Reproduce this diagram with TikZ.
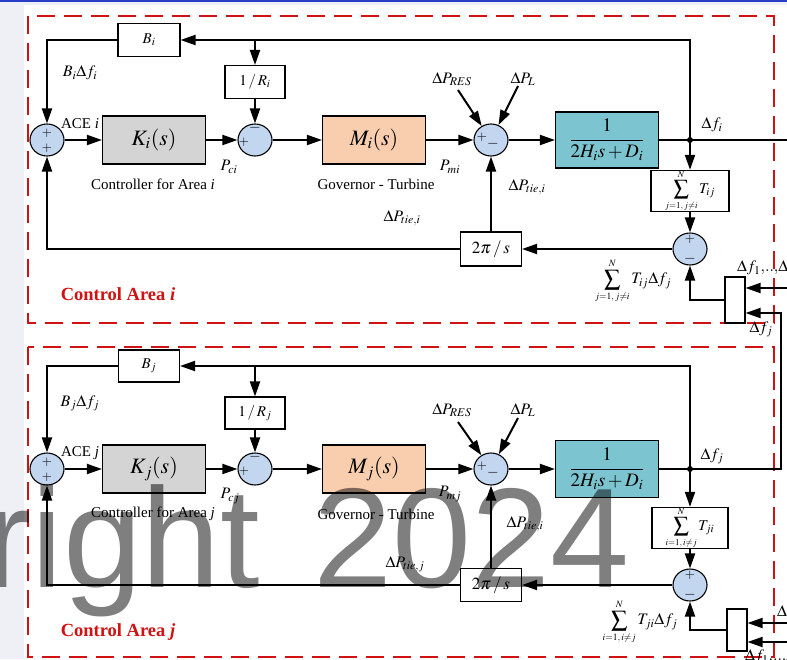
\documentclass[tikz,border=0pt]{standalone}
\usepackage{mathptmx}
\usepackage[no-math]{fontspec}
\setmainfont{Liberation Serif}
\newfontfamily\wmfont{Liberation Sans}
\usetikzlibrary{shapes.geometric,arrows.meta}
\definecolor{kgray}{RGB}{212,212,212}
\definecolor{mpeach}{RGB}{249,206,174}
\definecolor{gteal}{RGB}{124,196,208}
\definecolor{sblue}{RGB}{194,214,240}
\definecolor{areared}{RGB}{208,18,18}
\definecolor{bgl}{RGB}{238,240,245}
\definecolor{topblue}{RGB}{40,60,200}
\tikzset{
  blk/.style={draw, line width=1.1pt, inner sep=0pt, font=\fontsize{15}{18}\selectfont},
  bigblk/.style={blk, minimum width=103pt, minimum height=48pt, font=\fontsize{22}{24}\selectfont},
  sumc/.style={ellipse, draw, line width=1.1pt, fill=sblue, minimum width=34pt, minimum height=32pt, inner sep=0pt},
  conn/.style={line width=2pt},
  arr/.style={conn, -{Triangle[length=15pt,width=10pt]}},
  lbl/.style={inner sep=0pt, font=\fontsize{15}{18}\selectfont},
  mlbl/.style={inner sep=0pt, font=\fontsize{16}{18}\selectfont},
  sgn/.style={inner sep=0pt, font=\fontsize{13}{14}\selectfont},
  area/.style={draw=areared, line width=2pt, dash pattern=on 18pt off 9pt},
  arealbl/.style={inner sep=0pt, text=areared, font=\fontsize{18.5}{20}\selectfont\bfseries},
  wm/.style={inner sep=0pt, text=black, text opacity=0.5, font=\wmfont\fontsize{142}{150}\selectfont}
}
\begin{document}
\begin{tikzpicture}[x=1pt,y=-1pt]
\useasboundingbox (0,0) rectangle (787,659);
\clip (0,0) rectangle (787,659);
\fill[white] (0,0) rectangle (787,659);
\fill[bgl] (0,0) rectangle (24,659);
\fill[bgl] (0,0) rectangle (787,5);
\fill[topblue] (0,0) rectangle (787,1.5);

% dashed control area boxes
\draw[area] (28,16) rectangle (774,323);
\draw[area] (28,347) rectangle (774,657);

% ================= Area i =================
\node[blk, minimum width=62pt, minimum height=33pt] (Bi) at (149,40) {$B_i$};
\node[blk, minimum width=60pt, minimum height=33pt] (Ri) at (255,82) {$1\,/\,R_i$};
\node[sumc] (s0i) at (47,140) {};
\node[bigblk, fill=kgray] (Ki) at (154,140) {$K_i(s)$};
\node[sumc] (s1i) at (255,140) {};
\node[bigblk, fill=mpeach] (Mi) at (374,140) {$M_i(s)$};
\node[sumc] (s2i) at (491,140) {};
\node[blk, fill=gteal, minimum width=103pt, minimum height=56pt, font=\fontsize{19}{22}\selectfont] (Gi) at (607,140) {$\displaystyle\frac{1}{2H_i s+D_i}$};
\coordinate (ji) at (690,140);
\coordinate (outi) at (795,140);
\node[blk, minimum width=78pt, minimum height=41pt] (Tij) at (690,191) {$\displaystyle\sum_{\scriptscriptstyle j=1,\,j\neq i}^{\scriptscriptstyle N} T_{ij}$};
\node[sumc] (s3i) at (690,249) {};
\node[blk, minimum width=61pt, minimum height=34pt, font=\fontsize{17}{20}\selectfont] (tpi) at (491,249) {$2\pi\,/\,s$};
\node[blk, minimum width=20pt, minimum height=46pt] (muxi) at (735,300) {};
\coordinate (brRi) at (255,40);
\coordinate (resi) at (458,90);
\coordinate (Li) at (518,86);
\coordinate (iniA) at (795,288);
\coordinate (upj) at (781,313);

\draw[arr] (ji) |- (Bi);
\draw[arr] (brRi) -- (Ri);
\draw[arr] (Ri) -- (s1i);
\draw[arr] (Bi) -| (s0i);
\draw[arr] (s0i) -- (Ki);
\draw[arr] (Ki) -- (s1i);
\draw[arr] (s1i) -- (Mi);
\draw[arr] (Mi) -- (s2i);
\draw[arr] (s2i) -- (Gi);
\draw[conn] (Gi) -- (outi);
\fill (ji) circle (3pt);
\draw[arr] (ji) -- (Tij);
\draw[arr] (Tij) -- (s3i);
\draw[arr] (s3i) -- (tpi);
\draw[arr] (tpi) -| (s0i);
\draw[arr] (tpi) -- (s2i);
\draw[arr] (muxi) -| (s3i);
\draw[arr] (iniA) -- (iniA -| muxi.east);
\draw[arr] (resi) -- (s2i);
\draw[arr] (Li) -- (s2i);

% signs
\node[sgn] (g0a) at (47,133) {$+$};
\node[sgn] (g0b) at (47,148) {$+$};
\node[sgn, font=\fontsize{15}{16}\selectfont] (g1a) at (255,128) {$-$};
\node[sgn] (g1b) at (244,142) {$+$};
\node[sgn] (g2a) at (482,137) {$+$};
\node[sgn, font=\fontsize{15}{16}\selectfont] (g2b) at (493,144) {$-$};
\node[sgn] (g3a) at (690,239) {$+$};
\node[sgn, font=\fontsize{15}{16}\selectfont] (g3b) at (690,259) {$-$};

% labels
\node[mlbl] (lBdfi) at (80,73) {$B_i\Delta f_i$};
\node[lbl] (lACEi) at (80,124) {ACE \textit{i}};
\node[mlbl] (lPci) at (229,167) {$P_{ci}$};
\node[lbl] (lCtrli) at (153,184) {Controller for Area \textit{i}};
\node[mlbl] (lPmi) at (450,167) {$P_{mi}$};
\node[lbl] (lGovi) at (376,184) {Governor - Turbine};
\node[mlbl] (lRESi) at (452,79) {$\Delta P_{RES}$};
\node[mlbl] (lPLi) at (523,79) {$\Delta P_L$};
\node[mlbl] (ltieRi) at (527,187) {$\Delta P_{tie,i}$};
\node[mlbl] (ltieLi) at (402,218) {$\Delta P_{tie,i}$};
\node[mlbl] (ldfi) at (712,125) {$\Delta f_i$};
\node[mlbl] (lsumi) at (633,281) {$\displaystyle\sum_{\scriptscriptstyle j=1,\,j\neq i}^{\scriptscriptstyle N} T_{ij}\Delta f_j$};
\node[mlbl, anchor=west] (lallA) at (737,268) {$\Delta f_1,\!..,\!\Delta f_N$};
\node[mlbl] (ldfjA) at (761,329) {$\Delta f_j$};
\node[arealbl] (lCAi) at (118,294) {Control Area \textit{i}};

% ================= Area j =================
\node[blk, minimum width=61pt, minimum height=32pt] (Bj) at (149,366) {$B_j$};
\node[blk, minimum width=60pt, minimum height=32pt] (Rj) at (255,413) {$1\,/\,R_j$};
\node[sumc] (s0j) at (47,469) {};
\node[bigblk, fill=kgray] (Kj) at (154,469) {$K_j(s)$};
\node[sumc] (s1j) at (255,469) {};
\node[bigblk, fill=mpeach] (Mj) at (374,469) {$M_j(s)$};
\node[sumc] (s2j) at (491,469) {};
\node[blk, fill=gteal, minimum width=103pt, minimum height=57pt, font=\fontsize{19}{22}\selectfont] (Gj) at (607,469) {$\displaystyle\frac{1}{2H_i s+D_i}$};
\coordinate (jj) at (690,469);
\node[blk, minimum width=76pt, minimum height=41pt] (Tji) at (690,528) {$\displaystyle\sum_{\scriptscriptstyle i=1,\,i\neq j}^{\scriptscriptstyle N} T_{ji}$};
\node[sumc] (s3j) at (690,585) {};
\node[blk, minimum width=61pt, minimum height=33pt, font=\fontsize{17}{20}\selectfont] (tpj) at (491,585) {$2\pi\,/\,s$};
\node[blk, minimum width=20pt, minimum height=42pt] (muxj) at (737,630) {};
\coordinate (brRj) at (255,366);
\coordinate (resj) at (458,422);
\coordinate (Lj) at (518,418);
\coordinate (inB1) at (795,623);
\coordinate (inB2) at (795,642);

\draw[arr] (jj) |- (Bj);
\draw[arr] (brRj) -- (Rj);
\draw[arr] (Rj) -- (s1j);
\draw[arr] (Bj) -| (s0j);
\draw[arr] (s0j) -- (Kj);
\draw[arr] (Kj) -- (s1j);
\draw[arr] (s1j) -- (Mj);
\draw[arr] (Mj) -- (s2j);
\draw[arr] (s2j) -- (Gj);
\draw[arr] (Gj) -- (jj) -| (upj) -- (upj -| muxi.east);
\fill (jj) circle (3pt);
\draw[arr] (jj) -- (Tji);
\draw[arr] (Tji) -- (s3j);
\draw[arr] (s3j) -- (tpj);
\draw[arr] (tpj) -| (s0j);
\draw[arr] (tpj) -- (s2j);
\draw[arr] (muxj) -| (s3j);
\draw[arr] (inB1) -- (inB1 -| muxj.east);
\draw[arr] (inB2) -- (inB2 -| muxj.east);
\draw[arr] (resj) -- (s2j);
\draw[arr] (Lj) -- (s2j);

\node[sgn] (h0a) at (47,462) {$+$};
\node[sgn] (h0b) at (47,477) {$+$};
\node[sgn, font=\fontsize{15}{16}\selectfont] (h1a) at (255,457) {$-$};
\node[sgn] (h1b) at (244,471) {$+$};
\node[sgn] (h2a) at (482,466) {$+$};
\node[sgn, font=\fontsize{15}{16}\selectfont] (h2b) at (493,473) {$-$};
\node[sgn] (h3a) at (690,575) {$+$};
\node[sgn, font=\fontsize{15}{16}\selectfont] (h3b) at (690,595) {$-$};

\node[mlbl] (lBdfj) at (80,403) {$B_j\Delta f_j$};
\node[lbl] (lACEj) at (80,453) {ACE \textit{j}};
\node[mlbl] (lPcj) at (230,496) {$P_{cj}$};
\node[lbl] (lCtrlj) at (153,514) {Controller for Area \textit{j}};
\node[mlbl] (lPmj) at (450,494) {$P_{mj}$};
\node[lbl] (lGovj) at (376,514) {Governor - Turbine};
\node[mlbl] (lRESj) at (452,410) {$\Delta P_{RES}$};
\node[mlbl] (lPLj) at (523,410) {$\Delta P_L$};
\node[mlbl] (ltieRj) at (525,524) {$\Delta P_{tie,i}$};
\node[mlbl] (ltieLj) at (405,564) {$\Delta P_{tie,j}$};
\node[mlbl] (ldfj) at (712,456) {$\Delta f_j$};
\node[mlbl] (lsumj) at (640,622) {$\displaystyle\sum_{\scriptscriptstyle i=1,\,i\neq j}^{\scriptscriptstyle N} T_{ji}\Delta f_j$};
\node[mlbl, anchor=west] (lallB1) at (777,613) {$\Delta f_1,\!..$};
\node[mlbl, anchor=west] (lallB2) at (745,657) {$\Delta f_1,\!..,\!\Delta f_N$};
\node[arealbl] (lCAj) at (118,632) {Control Area \textit{j}};

% watermark
\node[wm, anchor=base west] (wmA) at (-16,587) {right};
\node[wm, anchor=base west] (wmB) at (313,587) {2024};
\end{tikzpicture}
\end{document}
